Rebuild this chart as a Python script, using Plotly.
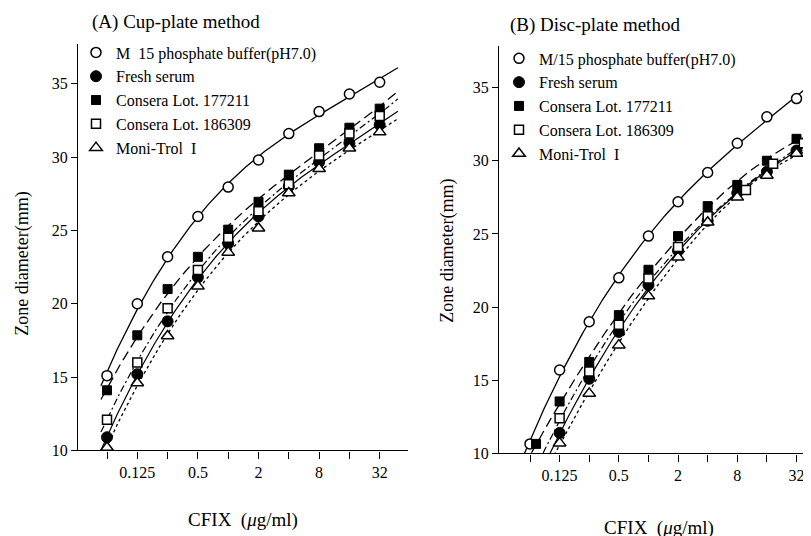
import numpy as np
import plotly.graph_objects as go

# ---------------- data ----------------
conc = [0.0625, 0.125, 0.25, 0.5, 1, 2, 4, 8, 16, 32]
x_tick_vals = [0.0625, 0.125, 0.25, 0.5, 1, 2, 4, 8, 16, 32]
x_tick_text = ["", "0.125", "", "0.5", "", "2", "", "8", "", "32"]
y_tick_vals = [10, 15, 20, 25, 30, 35]

names_a = ["M  15 phosphate buffer(pH7.0)", "Fresh serum", "Consera Lot. 177211",
           "Consera Lot. 186309", "Moni-Trol  I"]
names_b = ["M/15 phosphate buffer(pH7.0)", "Fresh serum", "Consera Lot. 177211",
           "Consera Lot. 186309", "Moni-Trol  I"]

# Panel A: Cup-plate method
a_buffer_x = conc
a_buffer = [15.1, 20.0, 23.2, 25.95, 27.95, 29.8, 31.6, 33.1, 34.3, 35.1]
a_fresh_x = conc
a_fresh = [10.9, 15.2, 18.8, 21.8, 24.1, 25.95, 28.0, 29.65, 30.95, 32.2]
a_c177_x = conc
a_c177 = [14.1, 17.85, 21.0, 23.2, 25.05, 26.95, 28.8, 30.6, 32.0, 33.3]
a_c186_x = conc
a_c186 = [12.1, 16.0, 19.7, 22.3, 24.5, 26.3, 28.15, 30.1, 31.6, 32.8]
a_moni_x = conc
a_moni = [10.2, 14.6, 17.8, 21.2, 23.5, 25.15, 27.55, 29.2, 30.6, 31.7]

# Panel B: Disc-plate method
b_buffer_x = conc
b_buffer = [10.65, 15.7, 19.0, 22.0, 24.85, 27.2, 29.2, 31.2, 33.0, 34.25]
b_fresh_x = [0.125, 0.25, 0.5, 1, 2, 4, 8, 16, 32]
b_fresh = [11.4, 15.1, 18.3, 21.5, 23.85, 25.9, 27.8, 29.25, 30.7]
b_c177_x = [0.072, 0.125, 0.25, 0.5, 1, 2, 4, 8, 16, 32]
b_c177 = [10.65, 13.55, 16.25, 19.45, 22.55, 24.85, 26.9, 28.35, 30.0, 31.5]
b_c186_x = [0.125, 0.25, 0.5, 1, 2, 4, 9.8, 18.5, 38]
b_c186 = [12.4, 15.6, 18.8, 21.95, 24.1, 26.2, 28.0, 29.8, 31.2]
b_moni_x = [0.125, 0.25, 0.5, 1, 2, 4, 8, 16, 32]
b_moni = [10.7, 14.1, 17.4, 20.75, 23.4, 25.8, 27.5, 29.0, 30.5]

# ---------------- styles ----------------
FONT = "Liberation Serif"
marker_styles = [
    dict(symbol="circle", size=10, color="white", line=dict(color="black", width=1.5)),
    dict(symbol="circle", size=11, color="black", line=dict(color="black", width=1)),
    dict(symbol="square", size=9, color="black", line=dict(color="black", width=1)),
    dict(symbol="square", size=9, color="white", line=dict(color="black", width=1.5)),
    dict(symbol="triangle-up", size=11, color="white", line=dict(color="black", width=1.5)),
]
line_styles = [
    dict(color="black", width=1.3, dash="solid"),
    dict(color="black", width=1.2, dash="solid"),
    dict(color="black", width=1.3, dash="10px,5px"),
    dict(color="black", width=1.2, dash="7px,3px,2px,3px"),
    dict(color="black", width=1.3, dash="3px,3px"),
]
fit_lo, fit_hi = -4.2, 5.6  # log2 extent of drawn fitted curves

fig = go.Figure()

panels = [
    ("x", "y", "legend", names_a,
     [(a_buffer_x, a_buffer), (a_fresh_x, a_fresh), (a_c177_x, a_c177),
      (a_c186_x, a_c186), (a_moni_x, a_moni)]),
    ("x2", "y2", "legend2", names_b,
     [(b_buffer_x, b_buffer), (b_fresh_x, b_fresh), (b_c177_x, b_c177),
      (b_c186_x, b_c186), (b_moni_x, b_moni)]),
]

for xa, ya, leg, names, series in panels:
    # fitted curves
    for i, (xs, ys) in enumerate(series):
        lx = np.log2(np.array(xs, dtype=float))
        coef = np.polyfit(lx, np.array(ys, dtype=float), 3)
        gx = np.linspace(fit_lo, fit_hi, 200)
        fig.add_trace(go.Scatter(x=2.0 ** gx, y=np.polyval(coef, gx), mode="lines",
                                 line=line_styles[i], xaxis=xa, yaxis=ya,
                                 showlegend=False, hoverinfo="skip"))
    # markers
    for i, (xs, ys) in enumerate(series):
        fig.add_trace(go.Scatter(x=xs, y=ys, mode="markers", name=names[i],
                                 marker=marker_styles[i], xaxis=xa, yaxis=ya,
                                 legend=leg, cliponaxis=False))

L2 = np.log10(2)
axis_common = dict(showline=True, linecolor="black", linewidth=1.3, showgrid=False,
                   zeroline=False, ticks="outside", tickcolor="black",
                   tickfont=dict(family=FONT, size=16, color="black"))
xtitle = "CFIX\u00a0\u00a0(<i>μ</i>g/ml)"
ytitle = "Zone diameter(mm)"

fig.update_layout(
    width=811, height=536,
    margin=dict(l=0, r=0, t=0, b=0),
    paper_bgcolor="white", plot_bgcolor="white",
    font=dict(family=FONT, color="black"),
    xaxis=dict(domain=[70 / 811, 400 / 811], type="log", anchor="y",
               range=[L2 * -4.957, L2 * 5.934], tickvals=x_tick_vals, ticktext=x_tick_text,
               ticklen=7, tickwidth=1.2,
               title=dict(text=xtitle, font=dict(family=FONT, size=19), standoff=32),
               **axis_common),
    yaxis=dict(domain=[1 - 450 / 536, 1 - 37 / 536], anchor="x", range=[10, 37.68],
               tickvals=y_tick_vals, ticklen=6, tickwidth=1.2, **axis_common),
    xaxis2=dict(domain=[491 / 811, 1.0], type="log", anchor="y2",
                range=[L2 * -5.047, L2 * 5.76], tickvals=x_tick_vals, ticktext=x_tick_text,
                ticklen=7, tickwidth=1.2,
                title=dict(text=xtitle, font=dict(family=FONT, size=19), standoff=37),
                **axis_common),
    yaxis2=dict(domain=[1 - 453 / 536, 1 - 39 / 536], anchor="x2", range=[10, 37.82],
                tickvals=y_tick_vals, ticklen=6, tickwidth=1.2, **axis_common),
    legend=dict(x=68 / 811, y=1 - 28 / 536, xanchor="left", yanchor="top",
                bgcolor="rgba(0,0,0,0)", itemwidth=30, tracegroupgap=0,
                font=dict(family=FONT, size=16, color="black")),
    legend2=dict(x=491 / 811, y=1 - 34 / 536, xanchor="left", yanchor="top",
                 bgcolor="rgba(0,0,0,0)", itemwidth=30, tracegroupgap=0,
                 font=dict(family=FONT, size=16, color="black")),
    annotations=[
        dict(text="(A) Cup-plate method", x=82 / 811, y=1 - 14 / 536, xref="paper", yref="paper",
             xanchor="left", yanchor="middle", showarrow=False,
             font=dict(family=FONT, size=19, color="black")),
        dict(text="(B) Disc-plate method", x=500 / 811, y=1 - 17 / 536, xref="paper", yref="paper",
             xanchor="left", yanchor="middle", showarrow=False,
             font=dict(family=FONT, size=19, color="black")),
        dict(text=ytitle, x=15 / 811, y=1 - 260 / 536, xref="paper", yref="paper",
             xanchor="center", yanchor="middle", textangle=-90, showarrow=False,
             font=dict(family=FONT, size=18, color="black")),
        dict(text=ytitle, x=440 / 811, y=1 - 247 / 536, xref="paper", yref="paper",
             xanchor="center", yanchor="middle", textangle=-90, showarrow=False,
             font=dict(family=FONT, size=18, color="black")),
    ],
)

fig.write_html("out.html")
